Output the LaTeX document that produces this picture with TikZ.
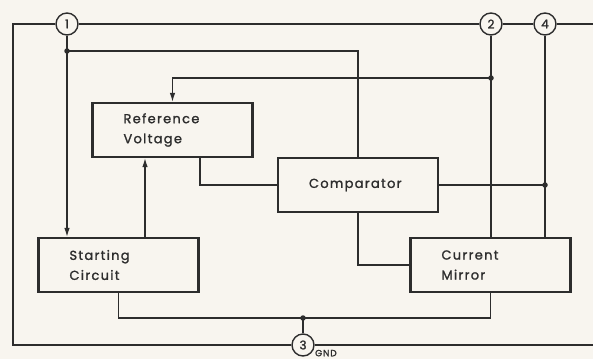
\documentclass[tikz,border=0pt]{standalone}
\usepackage{fontspec}
\usetikzlibrary{arrows.meta}
\newfontfamily\blockfont[LetterSpace=10,FakeBold=1.4]{Poppins}
\definecolor{paper}{RGB}{248,245,239}
\definecolor{ink}{RGB}{45,45,45}

\begin{document}
\begin{tikzpicture}[
          x=1pt, y=-1pt,
          block/.style={draw=ink, line width=2.2pt, fill=paper, minimum width=160pt, minimum height=54pt,
                        text width=98pt, align=left, inner xsep=31pt, text=ink,
                        font=\blockfont\fontsize{13}{20}\selectfont},
          pin/.style={circle, draw=ink, line width=1.4pt, fill=paper, minimum size=22pt, inner sep=0pt,
                      text=ink, font=\blockfont\fontsize{12}{12}\selectfont},
          dot/.style={circle, fill=ink, minimum size=5.5pt, inner sep=0pt},
          wire/.style={draw=ink, line width=1.2pt},
          arrow/.style={wire, -{Latex[length=9pt,width=5.5pt]}}
        ]
          \fill[paper] (0,0) rectangle (593,359);
          \useasboundingbox (0,0) rectangle (593,359);

          % frame corners
          \coordinate (tl) at (13,24);
          \coordinate (bl) at (13,345);
          \coordinate (tr) at (593,24);
          \coordinate (br) at (593,345);

          % blocks
          \node[block] (refv) at (172.5,130) {Reference\\Voltage};
          \node[block] (comp) at (358,185) {Comparator};
          \node[block] (start) at (118.5,265) {Starting\\Circuit};
          \node[block] (mirror) at (490.5,265) {Current\\Mirror};

          % pins
          \node[pin] (p1) at (67,24) {1};
          \node[pin] (p2) at (491,24) {2};
          \node[pin] (p4) at (545,24) {4};
          \node[pin] (p3) at (303,345) {3};
          \node[anchor=south west, inner sep=0pt, text=ink, font=\blockfont\fontsize{9}{9}\selectfont]
               (gnd) at (315,356.5) {GND};

          % junctions
          \node[dot] (j1) at (67,51) {};
          \node[dot] (j2) at (491,78) {};
          \node[dot] (j3) at (545,185) {};
          \node[dot] (j4) at (303,318) {};

          % frame
          \draw[wire] (tr) -- (p4) -- (p2) -- (p1) -- (tl) -- (bl) -- (p3) -- (br);

          % supply lines
          \draw[arrow] (p1) -- (p1 |- start.north);
          \draw[wire] (j1.center) -| (comp.north);
          \draw[wire] (p2) -- (p2 |- mirror.north);
          \draw[wire] (p4) -- (p4 |- mirror.north);

          % signal paths
          \draw[arrow] (j2.center) -| (refv.north);
          \draw[arrow] ([xshift=26.5pt]start.north) -- ([xshift=26.5pt]start.north |- refv.south);
          \draw[wire] ([xshift=27.5pt]refv.south) |- (comp.west);
          \draw[wire] (comp.east) -- (j3.center);
          \draw[wire] (comp.south) |- (mirror.west);

          % ground
          \draw[wire] (start.south) |- (j4.center) -| (mirror.south);
          \draw[wire] (j4.center) -- (p3);
\end{tikzpicture}
\end{document}
